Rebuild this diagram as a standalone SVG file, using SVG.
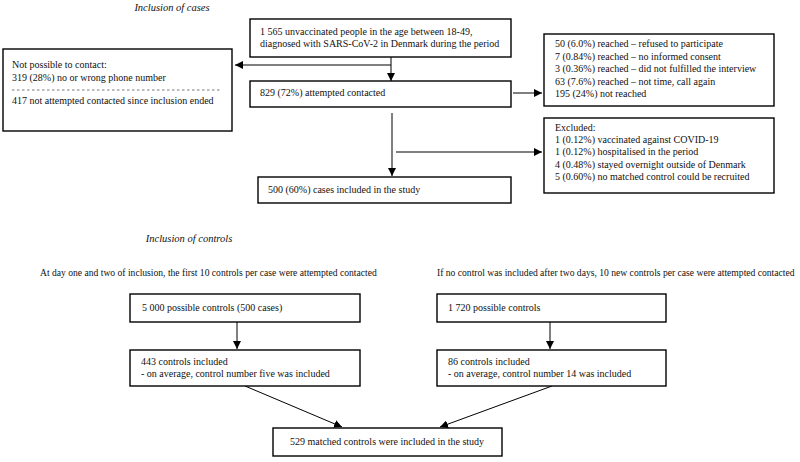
<svg xmlns="http://www.w3.org/2000/svg" width="800" height="462" viewBox="0 0 800 462">
<defs>
<marker id="ah" viewBox="0 0 10 10" refX="10" refY="5" markerWidth="8" markerHeight="8" markerUnits="userSpaceOnUse" orient="auto">
<path d="M0,0 L10,5 L0,10 z" fill="#000"/>
</marker>
<style>
text{font-family:"Liberation Serif","Times New Roman",serif;font-size:10px;fill:#111}
.t{font-style:italic;font-size:10.5px}
.w{font-size:9.6px}
rect{fill:#fff;stroke:#000;stroke-width:1.4}
.c line,.c path{stroke:#000;stroke-width:1;fill:none}
.a{marker-end:url(#ah)}
</style>
</defs>
<rect x="0" y="0" width="800" height="462" style="stroke:none"/>
<text class="t" x="172" y="11" text-anchor="middle">Inclusion of cases</text>
<text class="t" x="189" y="242" text-anchor="middle">Inclusion of controls</text>
<text class="w" x="40" y="276">At day one and two of inclusion, the first 10 controls per case were attempted contacted</text>
<text class="w" x="437" y="276">If no control was included after two days, 10 new controls per case were attempted contacted</text>

<g class="c">
<line x1="391" y1="57" x2="391" y2="81" class="a"/>
<line x1="391" y1="65" x2="235" y2="65" class="a"/>
<line x1="513" y1="93" x2="542" y2="93" class="a"/>
<line x1="392" y1="113" x2="392" y2="176" class="a"/>
<line x1="396" y1="152" x2="542" y2="152" class="a"/>
<line x1="237" y1="322" x2="237" y2="349" class="a"/>
<line x1="550" y1="322" x2="550" y2="349" class="a"/>
<line x1="245" y1="386" x2="342" y2="427" class="a"/>
<line x1="552" y1="386" x2="440" y2="427" class="a"/>
</g>

<g id="n-start">
<rect x="250" y="19" width="261" height="38"/>
<text x="260" y="35">1 565 unvaccinated people in the age between 18-49,</text>
<text x="260" y="47">diagnosed with SARS-CoV-2 in Denmark during the period</text>
</g>
<g id="n-notcontact">
<rect x="3" y="49" width="229" height="82"/>
<text x="12" y="68">Not possible to contact:</text>
<text x="12" y="81">319 (28%) no or wrong phone number</text>
<line x1="12" y1="90" x2="220" y2="90" stroke="#555" stroke-width="0.8" stroke-dasharray="2.5,2.5"/>
<text x="12" y="104">417 not attempted contacted since inclusion ended</text>
</g>
<g id="n-attempted">
<rect x="250" y="81" width="261" height="26"/>
<text x="260" y="96">829 (72%) attempted contacted</text>
</g>
<g id="n-reached">
<rect x="544" y="34" width="230" height="72"/>
<text x="555" y="47">50 (6.0%) reached – refused to participate</text>
<text x="555" y="59.5">7 (0.84%) reached – no informed consent</text>
<text x="555" y="72">3 (0.36%) reached – did not fulfilled the interview</text>
<text x="555" y="84.5">63 (7.6%) reached – not time, call again</text>
<text x="555" y="97">195 (24%) not reached</text>
</g>
<g id="n-excluded">
<rect x="544" y="118" width="230" height="75"/>
<text x="555" y="131">Excluded:</text>
<text x="555" y="143">1 (0.12%) vaccinated against COVID-19</text>
<text x="555" y="155">1 (0.12%) hospitalised in the period</text>
<text x="555" y="167.5">4 (0.48%) stayed overnight outside of Denmark</text>
<text x="555" y="180">5 (0.60%) no matched control could be recruited</text>
</g>
<g id="n-cases">
<rect x="258" y="177" width="253" height="26"/>
<text x="268" y="193">500 (60%) cases included in the study</text>
</g>
<g id="n-possible1">
<rect x="130" y="294" width="230" height="28"/>
<text x="142" y="311">5 000 possible controls (500 cases)</text>
</g>
<g id="n-possible2">
<rect x="437" y="294" width="229" height="28"/>
<text x="448" y="311">1 720 possible controls</text>
</g>
<g id="n-incl1">
<rect x="130" y="350" width="230" height="36"/>
<text x="141" y="365">443 controls included</text>
<text x="141" y="377">- on average, control number five was included</text>
</g>
<g id="n-incl2">
<rect x="437" y="350" width="229" height="36"/>
<text x="448" y="365">86 controls included</text>
<text x="448" y="377">- on average, control number 14 was included</text>
</g>
<g id="n-matched">
<rect x="273" y="428" width="229" height="28"/>
<text x="387" y="445" text-anchor="middle">529 matched controls were included in the study</text>
</g>
</svg>
